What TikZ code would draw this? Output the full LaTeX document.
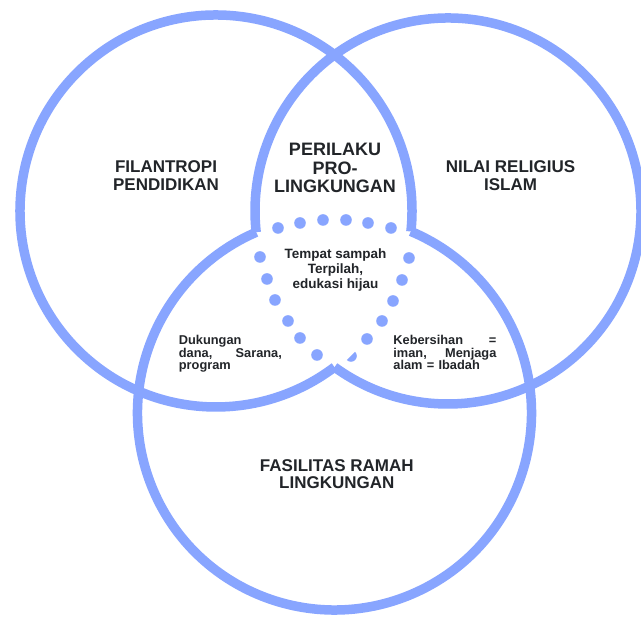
\documentclass[tikz,border=0pt]{standalone}
\usepackage{fontspec}
\setmainfont{Liberation Sans}
\definecolor{ringblue}{RGB}{136,165,255}
\definecolor{ink}{RGB}{34,37,41}
\begin{document}
\begin{tikzpicture}[x=1pt,y=1pt,
  ring/.style={draw=ringblue, line width=9.5pt},
  dotmark/.style={fill=ringblue},
  head/.style={text=ink, font={\bfseries\fontsize{17}{17.5}\selectfont\lineskiplimit=-20pt}, align=center, inner sep=0pt, anchor=north},
  headc/.style={head, font={\bfseries\fontsize{18}{18.8}\selectfont\lineskiplimit=-20pt}},
  small/.style={text=ink, font={\bfseries\fontsize{13.5}{15}\selectfont\lineskiplimit=-20pt}, align=center, inner sep=0pt, anchor=north},
  side/.style={text=ink, font={\bfseries\fontsize{12.8}{12.1}\selectfont\lineskiplimit=-20pt}, align=left, inner sep=0pt, anchor=north west, text width=103pt}
]
\clip (0,0) rectangle (641,617);
\fill[white] (0,0) rectangle (641,617);
\coordinate (cL) at (216,406);
\coordinate (cR) at (448,406);
\coordinate (cB) at (334.5,204);
% visible arcs of the three circles (the triple overlap is left open)
\draw[ring] ([shift={(-6:196)}]cL) arc[start angle=-6, end angle=307.2, radius=196];
\draw[ring] ([shift={(234:193)}]cR) arc[start angle=234, end angle=546.3, radius=193];
\draw[ring] ([shift={(113.4:197)}]cB) arc[start angle=113.4, end angle=427.2, radius=197];
% dotted contour
\foreach \p in {(278,389),(300,394),(323,397),(346,397),(368,394),(391,389),
                (260,360),(267,338),(275,317),(288,296),(300,279),(317,262),
                (409,359),(402,337),(393,316),(382,296),(367,278)}
  \fill[dotmark] \p circle[radius=5.8];
\fill[dotmark] (351,261) ++(225:5.8) arc[start angle=225, end angle=405, radius=5.8] -- cycle;
% labels
\node[head] (filantropi) at (166,456.3) {FILANTROPI\\PENDIDIKAN};
\node[headc] (perilaku) at (335,474.3) {PERILAKU\\PRO-\\LINGKUNGAN};
\node[head] (nilai) at (510.5,456.3) {NILAI RELIGIUS\\ISLAM};
\node[head] (fasilitas) at (336.8,158) {FASILITAS RAMAH\\LINGKUNGAN};
\node[small] (tempat) at (335.5,368) {Tempat sampah\\Terpilah,\\edukasi hijau};
\node[side] (dukungan) at (178.7,281.5) {Dukungan\\\makebox[103pt][l]{dana,\hfill Sarana,}\\program};
\node[side] (kebersihan) at (393.2,281.5) {\makebox[103pt][l]{Kebersihan\hfill =}\\\makebox[103pt][l]{iman,\hfill Menjaga}\\alam = Ibadah};
\end{tikzpicture}
\end{document}
